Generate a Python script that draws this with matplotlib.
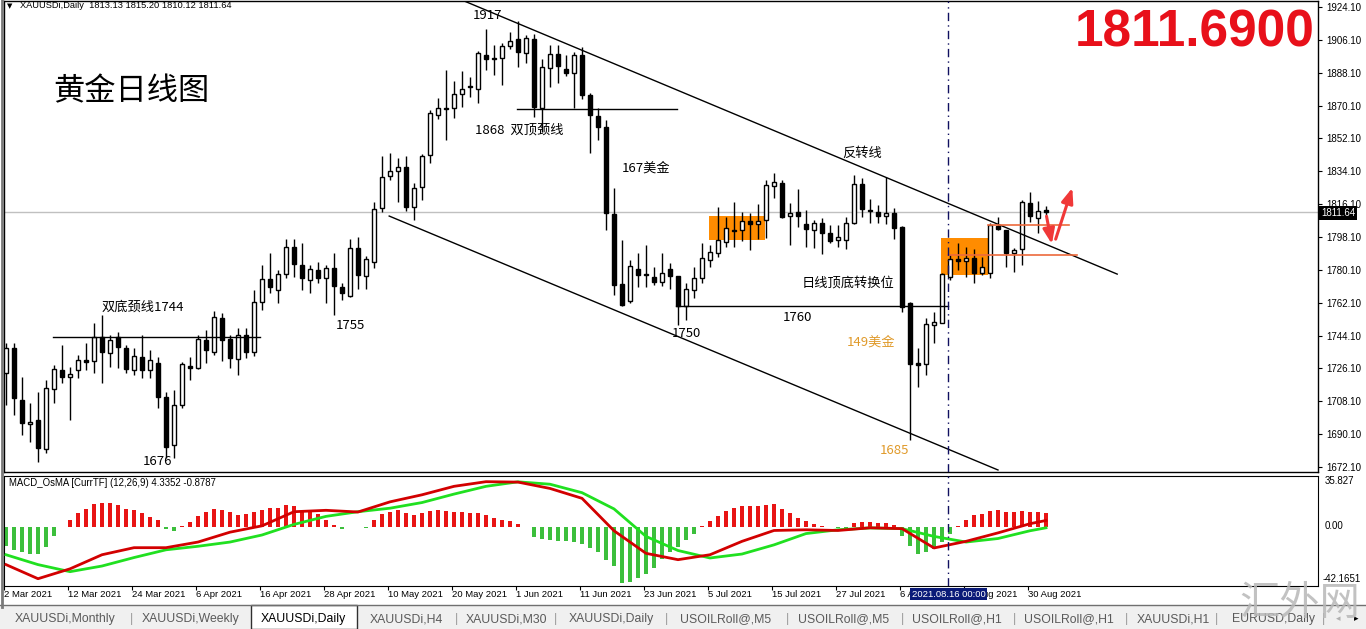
import matplotlib

matplotlib.use("Agg")
import matplotlib.pyplot as plt
import matplotlib.transforms as mtransforms
import numpy as np
from matplotlib.patches import Rectangle

plt.rcParams["font.family"] = ["Liberation Sans", "DejaVu Sans"]
CJK = ["Noto Sans CJK SC", "DejaVu Sans"]

W, H = 1366, 629

# daily bars, 2 Mar 2021 .. 1 Sep 2021
opens = [1723.4, 1737.1, 1708.8, 1695.6, 1697.8, 1681.8, 1714.8, 1725.2, 1721.2, 1725.2,
         1730.7, 1730.1, 1743.5, 1734.4, 1743.5, 1737.1, 1725.2, 1732.2, 1725.2, 1728.9,
         1710.6, 1684.1, 1706.1, 1727.4, 1726.5, 1741.6, 1735.2, 1753.5, 1742.0, 1731.1,
         1744.4, 1734.9, 1762.3, 1774.9, 1769.0, 1777.7, 1792.4, 1782.7, 1774.5, 1780.0,
         1775.4, 1780.9, 1770.9, 1765.9, 1791.9, 1776.7, 1784.2, 1813.8, 1831.5, 1834.2,
         1836.3, 1814.7, 1825.3, 1843.0, 1864.9, 1868.6, 1868.6, 1876.2, 1880.8, 1879.0,
         1897.8, 1896.0, 1896.0, 1902.9, 1906.6, 1898.7, 1906.6, 1868.6, 1890.5, 1898.3,
         1890.1, 1887.8, 1897.8, 1875.9, 1864.4, 1858.5, 1810.7, 1772.3, 1763.0, 1780.4,
         1777.8, 1776.0, 1773.6, 1780.4, 1776.7, 1760.3, 1769.0, 1775.4, 1785.5, 1789.2,
         1795.5, 1801.9, 1801.9, 1806.9, 1805.2, 1807.4, 1826.0, 1827.9, 1809.6, 1811.6,
         1805.0, 1801.9, 1805.9, 1800.4, 1796.5, 1796.5, 1805.6, 1827.0, 1812.9, 1812.0,
         1809.6, 1811.1, 1803.7, 1761.8, 1729.2, 1728.5, 1749.9, 1751.1, 1776.0, 1785.9,
         1785.0, 1786.4, 1778.2, 1778.5, 1804.1, 1801.9, 1789.2, 1791.4, 1816.9, 1808.3,
         1813.13]
highs = [1740.0, 1739.9, 1721.5, 1707.0, 1713.3, 1719.7, 1728.0, 1738.9, 1727.0, 1733.4,
         1739.9, 1750.8, 1755.3, 1744.4, 1746.2, 1738.9, 1737.1, 1744.4, 1736.2, 1732.5,
         1713.3, 1714.3, 1729.8, 1732.5, 1744.4, 1747.1, 1757.7, 1756.6, 1744.4, 1748.1,
         1748.4, 1769.0, 1782.7, 1789.1, 1780.0, 1796.8, 1796.8, 1794.9, 1782.7, 1784.5,
         1782.7, 1789.1, 1772.7, 1796.8, 1797.9, 1787.7, 1817.4, 1842.4, 1844.3, 1841.2,
         1842.4, 1827.8, 1843.5, 1867.6, 1874.1, 1889.6, 1883.7, 1889.2, 1885.9, 1900.0,
         1911.8, 1903.2, 1904.5, 1910.2, 1916.6, 1908.7, 1909.1, 1895.4, 1903.2, 1903.2,
         1897.8, 1899.6, 1902.3, 1877.1, 1868.6, 1862.2, 1824.8, 1796.4, 1785.5, 1789.1,
         1793.7, 1781.8, 1789.1, 1783.7, 1777.0, 1773.0, 1781.8, 1794.6, 1793.7, 1814.3,
         1809.2, 1817.4, 1811.9, 1811.1, 1816.2, 1829.3, 1833.3, 1829.3, 1816.9, 1824.2,
         1812.9, 1807.4, 1808.3, 1804.7, 1804.7, 1808.9, 1832.1, 1830.3, 1818.8, 1815.6,
         1830.8, 1813.8, 1803.9, 1762.7, 1737.1, 1753.6, 1757.2, 1778.2, 1788.2, 1794.6,
         1792.5, 1791.4, 1787.3, 1805.6, 1809.2, 1802.0, 1791.9, 1818.4, 1822.6, 1818.0,
         1815.20]
lows = [1706.1, 1700.6, 1689.6, 1685.9, 1675.0, 1679.6, 1707.0, 1717.9, 1697.8, 1720.7,
        1725.2, 1723.4, 1717.9, 1727.0, 1726.1, 1723.4, 1722.5, 1720.7, 1720.7, 1704.2,
        1676.9, 1676.9, 1704.2, 1719.7, 1725.6, 1729.2, 1733.4, 1730.1, 1726.1, 1722.5,
        1731.6, 1732.9, 1758.1, 1767.2, 1762.1, 1775.4, 1776.3, 1769.0, 1767.6, 1772.7,
        1761.8, 1755.4, 1763.6, 1765.1, 1769.4, 1769.4, 1780.9, 1811.9, 1829.3, 1817.4,
        1812.5, 1807.4, 1818.3, 1838.8, 1862.5, 1851.2, 1863.1, 1869.1, 1874.6, 1871.6,
        1889.6, 1886.8, 1881.4, 1901.1, 1891.4, 1893.6, 1864.0, 1855.8, 1880.4, 1882.6,
        1886.3, 1868.6, 1873.5, 1843.9, 1851.2, 1801.9, 1766.3, 1760.3, 1762.1, 1770.8,
        1770.8, 1771.8, 1771.2, 1769.4, 1749.9, 1752.6, 1764.5, 1773.0, 1781.8, 1787.3,
        1792.8, 1792.8, 1796.1, 1791.0, 1796.8, 1797.4, 1819.3, 1808.3, 1793.7, 1803.7,
        1792.8, 1791.9, 1788.6, 1794.6, 1792.5, 1791.4, 1805.2, 1809.2, 1805.9, 1805.9,
        1805.2, 1796.8, 1757.2, 1687.0, 1716.1, 1722.5, 1740.2, 1750.8, 1774.5, 1780.0,
        1776.4, 1773.1, 1777.3, 1775.5, 1801.9, 1781.5, 1779.1, 1782.7, 1806.5, 1800.4,
        1810.12]
closes = [1737.5, 1709.7, 1696.0, 1696.9, 1682.3, 1715.2, 1725.8, 1721.2, 1723.0, 1730.7,
          1729.8, 1743.5, 1735.2, 1741.6, 1737.6, 1725.6, 1732.9, 1725.2, 1730.7, 1710.6,
          1683.2, 1706.1, 1728.3, 1726.5, 1742.2, 1736.2, 1754.1, 1741.6, 1731.6, 1744.4,
          1734.9, 1762.3, 1774.9, 1770.5, 1777.8, 1792.4, 1783.1, 1775.4, 1780.5, 1775.4,
          1780.9, 1771.2, 1767.2, 1791.9, 1777.3, 1785.9, 1813.4, 1831.1, 1834.4, 1836.6,
          1814.3, 1824.7, 1842.4, 1865.8, 1868.6, 1868.2, 1876.2, 1879.0, 1880.1, 1898.7,
          1895.6, 1895.4, 1902.9, 1905.5, 1899.6, 1907.3, 1869.5, 1891.0, 1898.3, 1891.9,
          1887.8, 1897.8, 1875.9, 1864.9, 1858.2, 1811.1, 1771.8, 1760.8, 1782.2, 1777.3,
          1777.3, 1773.6, 1778.2, 1776.7, 1760.3, 1769.4, 1775.5, 1786.4, 1790.0, 1796.5,
          1802.8, 1801.4, 1807.0, 1805.2, 1806.9, 1826.6, 1828.4, 1809.2, 1811.4, 1809.6,
          1802.3, 1805.6, 1800.1, 1796.1, 1797.9, 1805.6, 1827.0, 1813.3, 1812.3, 1809.6,
          1811.1, 1802.9, 1759.9, 1728.5, 1728.0, 1750.4, 1751.3, 1777.7, 1785.9, 1785.1,
          1786.4, 1778.5, 1781.5, 1804.7, 1802.3, 1789.2, 1791.0, 1817.4, 1809.6, 1812.5,
          1811.64]

# MACD_OsMA histogram, one per bar
osma = [-13.6, -16.4, -18.3, -19.5, -19.5, -14.3, -6.4, -0.5, 4.8, 9.6,
        12.7, 15.8, 16.7, 16.7, 15.1, 12.7, 12.0, 9.6, 6.7, 4.8,
        -1.5, -3.0, 0.3, 3.1, 7.2, 10.3, 12.2, 12.0, 10.3, 8.4,
        9.1, 10.3, 11.5, 13.2, 13.4, 15.1, 14.6, 11.0, 11.0, 8.6,
        4.8, 1.2, -1.5, -0.5, -0.5, -0.8, 4.3, 8.6, 10.3, 11.5,
        9.8, 8.4, 9.6, 11.0, 11.5, 11.0, 10.3, 10.3, 9.6, 9.6,
        7.9, 6.0, 4.3, 3.9, 1.9, -0.3, -7.1, -8.8, -9.5, -10.0,
        -10.5, -11.2, -12.4, -15.2, -18.3, -23.8, -27.9, -39.8, -39.1, -36.7,
        -33.8, -29.1, -23.1, -18.3, -14.3, -9.5, -5.5, 0.5, 3.9, 7.2,
        11.0, 13.4, 14.3, 14.3, 14.3, 15.1, 15.8, 12.7, 9.6, 6.0,
        3.9, 1.9, 0.3, -0.5, -1.0, -1.0, 2.6, 3.1, 3.1, 2.6,
        2.6, 1.2, -6.4, -13.6, -19.5, -18.3, -16.0, -11.2, -5.2, 0.3,
        4.8, 7.9, 9.1, 11.0, 12.0, 10.3, 10.3, 11.0, 10.3, 10.3,
        9.6]

# MACD / signal lines read every 4th bar (plus last bar)
line_bars = [0, 4, 8, 12, 16, 20, 24, 28, 32, 36, 40, 44, 48, 52, 56, 60, 64,
             68, 72, 76, 80, 84, 88, 92, 96, 100, 104, 108, 112, 116, 120, 124, 128, 130]
macd_main = [-27, -37, -30, -20, -15, -15, -11, -4, 0.5, 10.5, 11.5, 10.3, 17.5, 22.5, 28.5, 31.8, 31.5,
             27, 20, -3, -19, -23.5, -20, -10.5, -2.8, -2.3, -2.8, -0.9, -1.5, -15.2, -10.5, -4.5, 2.0, 4.3]
macd_signal = [-20, -27, -32, -28, -22, -16.5, -14, -11, -6, 1.5, 7.2, 10.5, 13, 17, 23, 28.5, 31.7,
               30, 24, 12.5, -7, -17, -22.3, -19.5, -13, -5, -2.3, -1, -1.5, -7, -11, -8.5, -3, -0.9]

date_bars = [0, 8, 16, 24, 32, 40, 48, 56, 64, 72, 80, 88, 96, 104, 112, 120, 128]
date_labels = ["2 Mar 2021", "12 Mar 2021", "24 Mar 2021", "6 Apr 2021", "16 Apr 2021",
               "28 Apr 2021", "10 May 2021", "20 May 2021", "1 Jun 2021", "11 Jun 2021",
               "23 Jun 2021", "5 Jul 2021", "15 Jul 2021", "27 Jul 2021", "6 Aug 2021",
               "18 Aug 2021", "30 Aug 2021"]
price_ticks = [1924.10, 1906.10, 1888.10, 1870.10, 1852.10, 1834.10, 1816.10, 1798.10,
               1780.10, 1762.10, 1744.10, 1726.10, 1708.10, 1690.10, 1672.10]
last_price = 1811.64

# drawn objects: (bar_a, price_a, bar_b, price_b)
channel_top = (57.0, 1927.9, 138.9, 1777.8)
channel_bottom = (47.9, 1809.6, 124.0, 1670.5)
neck_top = (63.9, 1868.5, 83.9, 1868.5)
neck_bottom = (5.9, 1743.5, 31.8, 1743.5)
line_1760 = (83.8, 1760.3, 117.8, 1760.3)
boxes = [(87.9, 1796.5, 94.9, 1809.6), (116.9, 1777.3, 122.7, 1797.6)]
flag_lines = [(122.8, 1804.5, 132.9, 1804.5), (117.8, 1788.1, 133.9, 1788.1)]
separator_bar = 117.8

labels = [  # bar, price, text, colour
    (58.4, 1919.7, "1917", "black"),
    (58.6, 1856.7, "1868  双顶颈线", "black"),
    (77.0, 1835.9, "167美金", "black"),
    (104.5, 1844.1, "反转线", "black"),
    (11.9, 1759.8, "双底颈线1744", "black"),
    (41.25, 1749.9, "1755", "black"),
    (17.1, 1675.4, "1676", "black"),
    (83.25, 1745.0, "1750", "black"),
    (97.1, 1754.3, "1760", "black"),
    (99.4, 1772.9, "日线顶底转换位", "black"),
    (105.1, 1740.6, "149美金", "#e09a2a"),
    (109.25, 1681.4, "1685", "#e09a2a"),
]


def fy(y):
    return 1 - y / H


fig = plt.figure(figsize=(W / 100, H / 100), dpi=100)
fig.patch.set_facecolor("white")

ax = fig.add_axes([4 / W, fy(472), 1314 / W, 471 / H])
ax2 = fig.add_axes([4 / W, fy(586), 1314 / W, 110 / H], sharex=ax)

xs = np.arange(len(closes))
o, hi, lo, c = (np.array(v) for v in (opens, highs, lows, closes))
up = c >= o
body_lo = np.minimum(o, c)
body_h = np.maximum(np.abs(c - o), 0.05)

ax.axhline(last_price, color="#c0c0c0", lw=1, zorder=1)
for x0, p0, x1, p1 in boxes:
    ax.add_patch(Rectangle((x0, p0), x1 - x0, p1 - p0, color="#ff8c00", lw=0, zorder=1))
ax.vlines(xs, lo, hi, color="black", lw=1, zorder=2)
ax.bar(xs[up], body_h[up], bottom=body_lo[up], width=0.62, facecolor="white",
       edgecolor="black", lw=1, zorder=3)
ax.bar(xs[~up], body_h[~up], bottom=body_lo[~up], width=0.62, facecolor="black",
       edgecolor="black", lw=1, zorder=3)

for x0, p0, x1, p1 in (channel_top, channel_bottom, neck_top, neck_bottom, line_1760):
    ax.plot([x0, x1], [p0, p1], color="black", lw=1, zorder=4)
for x0, p0, x1, p1 in flag_lines:
    ax.plot([x0, x1], [p0, p1], color="#ec6a3c", lw=1.2, zorder=4)

arrow = dict(arrowstyle="-|>,head_length=0.9,head_width=0.35", color="#f03838", lw=2.2)
ax.annotate("", xy=(130.8, 1792.8), xytext=(130.0, 1811.0), arrowprops=arrow, zorder=5)
ax.annotate("", xy=(133.4, 1826.5), xytext=(131.1, 1795.5), arrowprops=arrow, zorder=5)

for bx, py, txt, col in labels:
    ax.text(bx, py, txt, color=col, fontsize=9.5, family=CJK, va="center", ha="left", zorder=6)

for a in (ax, ax2):
    a.axvline(separator_bar, color="#101060", lw=1, ls=(0, (6, 3, 1, 3)), zorder=5)

ax.set_xlim(-0.25, 164.0)
ax.set_ylim(1669.4, 1927.4)
ax.set_yticks(price_ticks)
ax.set_yticklabels([f"{t:.2f}" for t in price_ticks])
ax.yaxis.tick_right()
ax.tick_params(axis="y", direction="out", length=3, width=0.8, labelsize=7, pad=3)
ax.tick_params(axis="x", bottom=False, labelbottom=False)
for s in ax.spines.values():
    s.set_linewidth(1)

# MACD panel
osma_arr = np.array(osma)
ax2.bar(xs, osma_arr, width=0.42, color=np.where(osma_arr >= 0, "#e81414", "#3cbf3c"), zorder=2)
ax2.plot(line_bars, macd_signal, color="#20e020", lw=2, zorder=3)
ax2.plot(line_bars, macd_main, color="#d20000", lw=2, zorder=4)
ax2.set_ylim(-42.1651, 35.827)
ax2.set_yticks([])
ax2.set_xticks([b - 0.25 for b in date_bars])
ax2.tick_params(axis="x", direction="out", length=3, width=0.8, labelbottom=False)

tr = mtransforms.blended_transform_factory(ax2.transData, ax2.transAxes)
for b, lab in zip(date_bars, date_labels):
    ax2.text(b - 0.25, -0.075, lab, transform=tr, fontsize=6.8, va="center", ha="left", clip_on=False)
ax2.text(separator_bar + 0.03, -0.075, "2021.08.16 00:00", transform=tr, fontsize=6.8,
         va="center", ha="center", color="white", zorder=6,
         bbox=dict(boxstyle="square,pad=0.15", fc="#0a1a78", ec="none"))

fig.text(1325 / W, fy(481), "35.827", fontsize=7, va="center")
fig.text(1325 / W, fy(526), "0.00", fontsize=7, va="center")
fig.text(1323 / W, fy(579), "-42.1651", fontsize=7, va="center")
fig.text(9 / W, fy(483), "MACD_OsMA [CurrTF] (12,26,9) 4.3352 -0.8787", fontsize=6.9, va="center")

# header, current price and titles
fig.text(7 / W, fy(6), "▼", fontsize=5, va="center", family="DejaVu Sans")
fig.text(20 / W, fy(6), "XAUUSDi,Daily  1813.13 1815.20 1810.12 1811.64", fontsize=6.7, va="center")
fig.text(1321 / W, fy(213), "1811.64", fontsize=7, va="center", color="white",
         bbox=dict(boxstyle="square,pad=0.2", fc="black", ec="none"))
fig.text(1315 / W, fy(33), "1811.6900", fontsize=37, weight="bold", color="#e8101a",
         ha="right", va="center")
fig.text(53 / W, fy(91), "黄金日线图", fontsize=22.5, family=CJK, va="center")

# tab bar
fig.patches.append(Rectangle((0, 0), 1, fy(605), transform=fig.transFigure, fc="#f0f0f0",
                             ec="none", zorder=0))
fig.add_artist(plt.Line2D([0, 1], [fy(605), fy(605)], color="#707070", lw=1))
fig.patches.append(Rectangle((251 / W, 0), 106 / W, fy(605), transform=fig.transFigure,
                             fc="white", ec="#303030", lw=1, zorder=1))
tabs = [(15, "XAUUSDi,Monthly"), (142, "XAUUSDi,Weekly"), (261, "XAUUSDi,Daily"),
        (370, "XAUUSDi,H4"), (466, "XAUUSDi,M30"), (569, "XAUUSDi,Daily"),
        (680, "USOILRoll@,M5"), (798, "USOILRoll@,M5"), (912, "USOILRoll@,H1"),
        (1024, "USOILRoll@,H1"), (1137, "XAUUSDi,H1"), (1232, "EURUSD,Daily")]
for tx, name in tabs:
    fig.text(tx / W, fy(619), name, fontsize=8.8, va="center",
             color="black" if tx == 261 else "#5a5a5a", zorder=2)
for sx in (130, 455, 554, 665, 786, 901, 1013, 1125, 1215, 1322):
    fig.text(sx / W, fy(619), "|", fontsize=9, va="center", color="#9a9a9a")
fig.text(1336 / W, fy(619), "◂", fontsize=6.5, va="center", color="#b0b0b0", family="DejaVu Sans")
fig.text(1354 / W, fy(619), "▸", fontsize=6.5, va="center", color="black", family="DejaVu Sans")

fig.add_artist(plt.Line2D([1.5 / W, 1.5 / W], [fy(607), 1], color="#7a7a7a", lw=2))
fig.text(1300 / W, fy(604), "汇外网", fontsize=29, family=CJK, color="#b8b8b8",
         alpha=0.85, ha="center", va="center", weight="light")

fig.savefig("out.png", dpi=100)
